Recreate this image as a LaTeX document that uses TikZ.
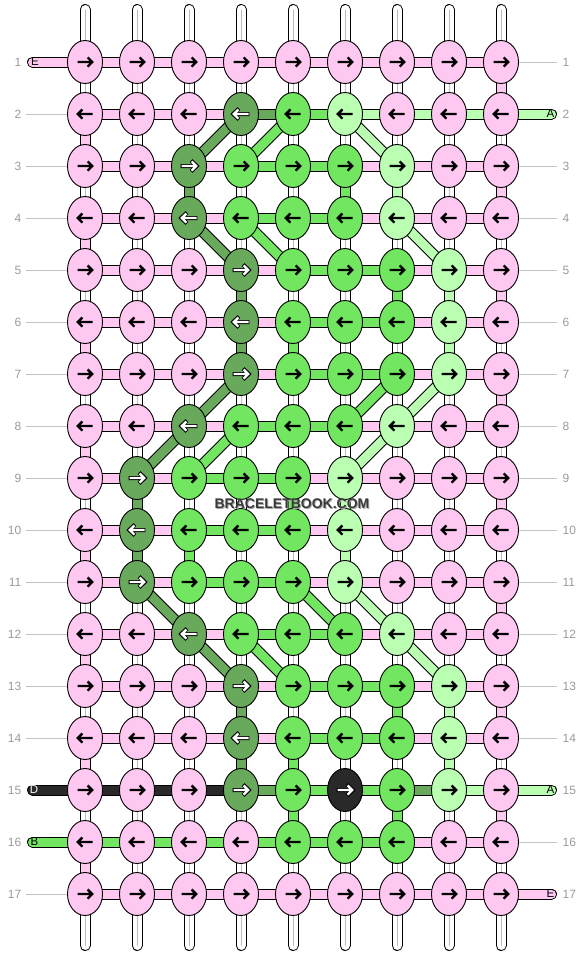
\documentclass[tikz,border=0pt]{standalone}
\usepackage{fontspec}
\setmainfont{Liberation Sans}
\usetikzlibrary{shapes.geometric}
\definecolor{cP}{HTML}{FFC8F0}
\definecolor{cD}{HTML}{69A95C}
\definecolor{cG}{HTML}{72E660}
\definecolor{cL}{HTML}{BBFFB3}
\definecolor{cK}{HTML}{292929}
\definecolor{cW}{HTML}{FFFFFF}
\definecolor{numgray}{HTML}{9A9A9A}
\definecolor{guide}{HTML}{C4C4C4}
\definecolor{strandline}{HTML}{BBBBBB}
\definecolor{brandgray}{HTML}{3A3A3A}
\pgfdeclarelayer{bg}
\pgfsetlayers{bg,main}
\def\kcolarrP{black}\def\kcolarrG{black}\def\kcolarrL{black}
\def\kcolarrD{white}\def\kcolarrK{white}
\def\whitename{white}
\def\Wname{W}
\tikzset{
 knotnode/.style={ellipse, draw=black, line width=0.9pt, fill=c#1, minimum width=35pt, minimum height=43pt, inner sep=0pt},
 tband/.style={draw=black, line width=1pt, double=c#1, double distance=9pt},
 strandmid/.style={draw=strandline, line width=0.8pt},
 arrowpath/.style={line width=2.4pt, line cap=butt, line join=miter},
 rownum/.style={text=numgray, font=\fontsize{12}{12}\selectfont, inner sep=0pt},
 endlabel/.style={font=\fontsize{11.5}{11.5}\selectfont, inner sep=0pt},
 guideline/.style={draw=guide, line width=0.8pt},
}
\begin{document}
\begin{tikzpicture}[x=1pt,y=-1pt]
\useasboundingbox (0,0) rectangle (584,956);
% knots
\foreach \row [count=\r] in {
 {P,P,P,P,P,P,P,P,P},
 {P,P,P,D,G,L,P,P,P},
 {P,P,D,G,G,G,L,P,P},
 {P,P,D,G,G,G,L,P,P},
 {P,P,P,D,G,G,G,L,P},
 {P,P,P,D,G,G,G,L,P},
 {P,P,P,D,G,G,G,L,P},
 {P,P,D,G,G,G,L,P,P},
 {P,D,G,G,G,L,P,P,P},
 {P,D,G,G,G,L,P,P,P},
 {P,D,G,G,G,L,P,P,P},
 {P,P,D,G,G,G,L,P,P},
 {P,P,P,D,G,G,G,L,P},
 {P,P,P,D,G,G,G,L,P},
 {P,P,P,D,G,K,G,L,P},
 {P,P,P,P,G,G,G,P,P},
 {P,P,P,P,P,P,P,P,P}}{
 \pgfmathsetmacro\dir{1-2*mod(\r+1,2)}
 \foreach \k [count=\c] in \row {
  \node[knotnode=\k] (k-\r-\c) at ({85+52*(\c-1)},{62+52*(\r-1)}) {};
  \edef\acol{\csname kcolarr\k\endcsname}
  \begin{scope}[shift={(k-\r-\c.center)}, xscale=\dir]
   \ifx\acol\whitename
    \draw[arrowpath, line width=4pt, black] (-8.4,0) -- (7,0) (2.1,-5.4) -- (7.8,0) -- (2.1,5.4);
   \fi
   \draw[arrowpath, draw=\acol] (-7.5,0) -- (6.5,0) (2.6,-4.6) -- (7.2,0) -- (2.6,4.6);
  \end{scope}
 }
}
\begin{pgfonlayer}{bg}
% vertical connectors
\foreach \row [count=\r] in {
 {W,W,W,W,W,W,W,W,P},
 {P,W,W,W,W,W,W,W,W},
 {W,W,D,W,W,G,L,W,P},
 {P,W,W,W,W,W,W,W,W},
 {W,W,W,D,W,W,G,L,P},
 {P,W,W,D,G,W,W,L,W},
 {W,W,W,W,W,W,W,W,P},
 {P,W,W,W,W,W,W,W,W},
 {W,D,W,W,G,L,W,W,P},
 {P,D,G,W,W,L,W,W,W},
 {W,W,W,W,W,W,W,W,P},
 {P,W,W,W,W,W,W,W,W},
 {W,W,W,D,W,W,G,L,P},
 {P,W,W,D,G,W,W,L,W},
 {W,W,W,W,G,W,G,W,P},
 {P,W,W,W,W,W,W,W,W}}{
 \pgfmathtruncatemacro\rn{\r+1}
 \foreach \v [count=\c] in \row {
  \draw[tband=\v] (k-\r-\c.center) -- (k-\rn-\c.center);
  \edef\vv{\v}
  \ifx\vv\Wname \draw[strandmid] (k-\r-\c.center) -- (k-\rn-\c.center); \fi
 }
}
% top and bottom strands
\foreach \c in {1,...,9}{
 \coordinate (top-\c) at ({85+52*(\c-1)},9.5);
 \coordinate (bot-\c) at ({85+52*(\c-1)},945.5);
 \draw[tband=W, line cap=round] (top-\c) -- (k-1-\c.center);
 \draw[strandmid] (top-\c) -- (k-1-\c.center);
 \draw[tband=W, line cap=round] (bot-\c) -- (k-17-\c.center);
 \draw[strandmid] (bot-\c) -- (k-17-\c.center);
}
% horizontal connectors
\foreach \row [count=\r] in {
 {P,P,P,P,P,P,P,P},
 {P,P,P,D,G,L,L,L},
 {P,P,P,G,G,P,P,P},
 {P,P,P,G,G,P,P,P},
 {P,P,P,P,G,G,P,P},
 {P,P,P,P,G,G,P,P},
 {P,P,P,P,G,G,P,P},
 {P,P,P,G,G,P,P,P},
 {P,P,G,G,P,P,P,P},
 {P,P,G,G,P,P,P,P},
 {P,P,G,G,P,P,P,P},
 {P,P,P,G,G,P,P,P},
 {P,P,P,P,G,G,P,P},
 {P,P,P,P,G,G,P,P},
 {K,K,K,D,G,G,D,L},
 {G,G,G,G,G,G,P,P},
 {P,P,P,P,P,P,P,P}}{
 \foreach \h [count=\c] in \row {
  \pgfmathtruncatemacro\cn{\c+1}
  \draw[tband=\h] (k-\r-\c.center) -- (k-\r-\cn.center);
 }
}
% diagonal connectors
\foreach \dc/\ra/\ca/\rb/\cb in {
 D/2/4/3/3, D/4/3/5/4, D/7/4/8/3, D/8/3/9/2, D/11/2/12/3, D/12/3/13/4,
 G/2/5/3/4, G/4/4/5/5, G/7/7/8/6, G/8/4/9/3, G/11/5/12/6, G/12/4/13/5,
 L/2/6/3/7, L/4/7/5/8, L/7/8/8/7, L/8/7/9/6, L/11/6/12/7, L/12/7/13/8}{
 \draw[tband=\dc] (k-\ra-\ca.center) -- (k-\rb-\cb.center);
}
% thread ends
\foreach \r/\ec in {1/P,15/K,16/G}{
 \coordinate (le-\r) at (32.5,{62+52*(\r-1)});
 \draw[tband=\ec, line cap=round] (le-\r) -- (k-\r-1.center);
}
\foreach \r/\ec in {2/L,15/L,17/P}{
 \coordinate (re-\r) at (551.5,{62+52*(\r-1)});
 \draw[tband=\ec, line cap=round] (re-\r) -- (k-\r-9.center);
}
\end{pgfonlayer}
% end labels
\node[endlabel] (lab-l1) at (35,62) {E};
\node[endlabel, text=white] (lab-l15) at (34,790) {D};
\node[endlabel] (lab-l16) at (34.5,842) {B};
\node[endlabel] (lab-r2) at (550.5,114) {A};
\node[endlabel] (lab-r15) at (550.5,790) {A};
\node[endlabel] (lab-r17) at (550.5,894) {E};
% guide lines and row numbers
\foreach \r in {2,...,14,17}{
 \coordinate (gl-\r) at (26,{62+52*(\r-1)});
 \draw[guideline] (gl-\r) -- (k-\r-1.west);
}
\foreach \r in {1,3,4,...,14,16}{
 \coordinate (gr-\r) at (557,{62+52*(\r-1)});
 \draw[guideline] (k-\r-9.east) -- (gr-\r);
}
\foreach \r in {1,...,17}{
 \node[rownum, anchor=east] (nl-\r) at (21.5,{62+52*(\r-1)}) {\r};
 \node[rownum, anchor=west] (nr-\r) at (562.5,{62+52*(\r-1)}) {\r};
}
% watermark
\node[font=\bfseries\fontsize{14}{14}\selectfont, text=black!35, inner sep=0pt] (brandshadow) at (293,505) {BRACELETBOOK.COM};
\node[font=\bfseries\fontsize{14}{14}\selectfont, text=brandgray, inner sep=0pt] (brand) at (292,504) {BRACELETBOOK.COM};
\end{tikzpicture}
\end{document}
